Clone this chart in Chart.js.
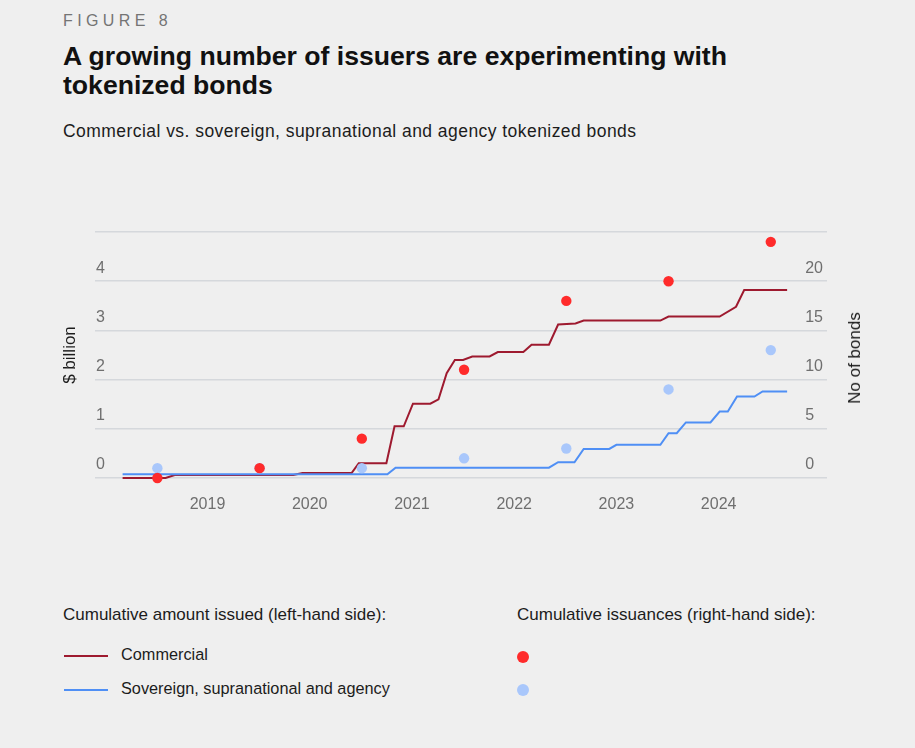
<!DOCTYPE html>
<html>
<head>
<meta charset="utf-8">
<script src="https://cdn.jsdelivr.net/npm/chart.js@4.4.1/dist/chart.umd.min.js"></script>
<style>
  html, body { margin: 0; padding: 0; background: #efefef; }
  body { width: 915px; height: 748px; position: relative; overflow: hidden;
         font-family: "Liberation Sans", Arial, Helvetica, sans-serif; color: #141414; }
  .abs { position: absolute; white-space: nowrap; }
  #fig { left: 63px; top: 12px; font-size: 16px; letter-spacing: 4.4px; color: #747474; }
  #title { left: 63px; top: 42px; font-size: 26.6px; font-weight: bold; line-height: 29px; color: #111; }
  #subtitle { left: 63px; top: 121px; font-size: 17.5px; letter-spacing: 0.45px; color: #1c1c1c; }
  #chartbox { position: absolute; left: 0; top: 200px; width: 915px; height: 330px; }
  #ytitle2 { left: 855px; top: 358px; font-size: 17px; color: #1c1c1c;
             transform: translate(-50%, -50%) rotate(-90deg); }
  .lg { font-size: 17px; color: #1c1c1c; }
  .lgi { font-size: 16.3px; color: #1c1c1c; }
  .swatch { position: absolute; width: 44px; height: 2px; }
  .dot { position: absolute; width: 12px; height: 12px; border-radius: 50%; }
</style>
</head>
<body>
<div id="fig" class="abs">FIGURE 8</div>
<div id="title" class="abs">A growing number of issuers are experimenting with<br>tokenized bonds</div>
<div id="subtitle" class="abs">Commercial vs. sovereign, supranational and agency tokenized bonds</div>
<div id="chartbox"><canvas id="c"></canvas></div>
<div id="ytitle2" class="abs">No of bonds</div>

<div class="abs lg" style="left:63px; top:605px;">Cumulative amount issued (left-hand side):</div>
<div class="abs lg" style="left:517px; top:605px;">Cumulative issuances (right-hand side):</div>
<div class="swatch" style="left:64px; top:655px; background:#9e1a2f;"></div>
<div class="abs lgi" style="left:121px; top:645px;">Commercial</div>
<div class="swatch" style="left:64px; top:689px; background:#4f8ff5;"></div>
<div class="abs lgi" style="left:121px; top:679px;">Sovereign, supranational and agency</div>
<div class="dot" style="left:517px; top:651px; background:#ff2b2b;"></div>
<div class="dot" style="left:517px; top:684px; background:#a9c7fb;"></div>

<script>
// ---- Data ----
// Cumulative amount issued, $ billion (left-hand side) – vertices of the line
const commercialYears = [2018.16, 2018.58, 2018.67, 2019.83, 2019.92, 2020.40, 2020.47, 2020.74, 2020.82, 2020.91,
  2021.00, 2021.17, 2021.25, 2021.33, 2021.41, 2021.49, 2021.58, 2021.75, 2021.83, 2022.08,
  2022.16, 2022.33, 2022.42, 2022.59, 2022.67, 2023.42, 2023.50, 2024.00, 2024.16, 2024.24, 2024.66];
const commercialAmount = [0, 0, 0.06, 0.06, 0.10, 0.10, 0.30, 0.30, 1.05, 1.05,
  1.51, 1.51, 1.60, 2.13, 2.40, 2.40, 2.47, 2.47, 2.56, 2.56,
  2.71, 2.71, 3.12, 3.14, 3.20, 3.20, 3.28, 3.28, 3.48, 3.82, 3.82];

const sovereignYears = [2018.16, 2020.75, 2020.83, 2022.33, 2022.42, 2022.58, 2022.67, 2022.92, 2022.99, 2023.42,
  2023.50, 2023.58, 2023.67, 2023.91, 2024.00, 2024.08, 2024.17, 2024.34, 2024.42, 2024.66];
const sovereignAmount = [0.075, 0.075, 0.21, 0.21, 0.32, 0.32, 0.59, 0.59, 0.675, 0.675,
  0.91, 0.91, 1.13, 1.13, 1.35, 1.35, 1.655, 1.655, 1.76, 1.76];

// Cumulative issuances, number of bonds (right-hand side) – one dot per year (mid-year)
const issuanceYears = [2018.5, 2019.5, 2020.5, 2021.5, 2022.5, 2023.5, 2024.5];
const commercialCount = [0, 1, 4, 11, 18, 20, 24];
const sovereignCount = [1, 1, 1, 2, 3, 9, 13];

// Axis ticks
const yearTicks = [2019, 2020, 2021, 2022, 2023, 2024];
const leftTicks = [0, 1, 2, 3, 4, 5];
const rightTicks = [0, 5, 10, 15, 20, 25];

// ---- Chart ----
const pts = (xs, ys) => xs.map((x, i) => ({ x: x, y: ys[i] }));
const tickFont = { family: "'Liberation Sans', Arial, sans-serif", size: 16 };
const tickColor = '#6f6f6f';

new Chart(document.getElementById('c'), {
  type: 'line',
  data: {
    datasets: [
      { label: 'Commercial (issuances)', type: 'scatter', data: pts(issuanceYears, commercialCount),
        yAxisID: 'y2', backgroundColor: '#ff2b2b', borderWidth: 0, pointRadius: 5.2, pointHoverRadius: 5.2,
        clip: false, order: 0 },
      { label: 'Sovereign, supranational and agency (issuances)', type: 'scatter', data: pts(issuanceYears, sovereignCount),
        yAxisID: 'y2', backgroundColor: '#a9c7fb', borderWidth: 0, pointRadius: 5.2, pointHoverRadius: 5.2,
        clip: false, order: 1 },
      { label: 'Sovereign, supranational and agency', data: pts(sovereignYears, sovereignAmount), yAxisID: 'y',
        borderColor: '#4f8ff5', borderWidth: 2, pointRadius: 0, tension: 0, fill: false, clip: false, order: 2 },
      { label: 'Commercial', data: pts(commercialYears, commercialAmount), yAxisID: 'y',
        borderColor: '#9e1a2f', borderWidth: 2, pointRadius: 0, tension: 0, fill: false, clip: false, order: 3 }
    ]
  },
  options: {
    responsive: true,
    maintainAspectRatio: false,
    animation: false,
    layout: { padding: { top: 32, bottom: 0, left: 0, right: 0 } },
    plugins: { legend: { display: false }, tooltip: { enabled: false } },
    scales: {
      x: {
        type: 'linear', min: 2017.89, max: 2025.05,
        afterBuildTicks: (s) => { s.ticks = yearTicks.map(v => ({ value: v })); },
        afterFit: (s) => { s.height = 52; },
        grid: { display: false, drawTicks: false },
        border: { display: false },
        ticks: { font: tickFont, color: tickColor, padding: 17, labelOffset: -1, callback: (v) => String(v) }
      },
      y: {
        position: 'left', min: 0, max: 5,
        afterBuildTicks: (s) => { s.ticks = leftTicks.map(v => ({ value: v })); },
        afterFit: (s) => { s.width = 95; },
        grid: { color: '#d5d8dc', lineWidth: 1.4, drawTicks: false },
        border: { display: false },
        ticks: { mirror: true, padding: 1, labelOffset: -13, font: tickFont, color: tickColor,
                 callback: (v) => (v === 5 ? '' : String(v)) },
        title: { display: true, text: '$ billion', color: '#1c1c1c', padding: 60,
                 font: { family: "'Liberation Sans', Arial, sans-serif", size: 17 } }
      },
      y2: {
        position: 'right', min: 0, max: 25,
        afterBuildTicks: (s) => { s.ticks = rightTicks.map(v => ({ value: v })); },
        afterFit: (s) => { s.width = 88; },
        grid: { display: false, drawTicks: false },
        border: { display: false },
        ticks: { mirror: true, crossAlign: 'far', padding: -4, labelOffset: -13, font: tickFont, color: tickColor,
                 callback: (v) => (v === 25 ? '' : String(v)) }
      }
    }
  }
});
</script>
</body>
</html>
